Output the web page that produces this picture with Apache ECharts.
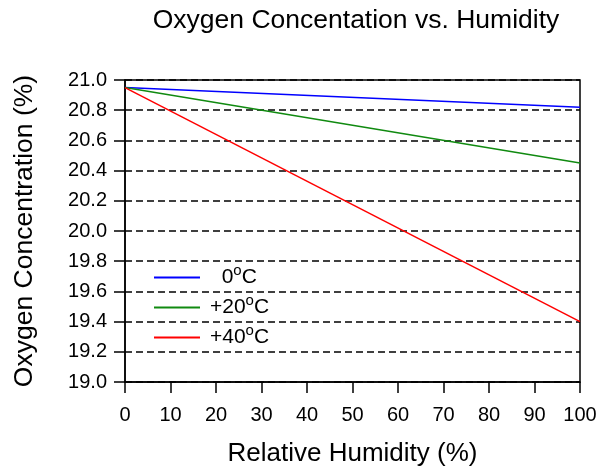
<!DOCTYPE html>
<html>
<head>
<meta charset="utf-8">
<script src="https://cdn.jsdelivr.net/npm/echarts@6/dist/echarts.min.js"></script>
<style>
html, body { margin: 0; padding: 0; background: #fff; }
#main { width: 598px; height: 468px; }
</style>
</head>
<body>
<div id="main"></div>
<script>
// data
var humidity = [0, 100];
var temp0 = [20.95, 20.82];
var temp20 = [20.95, 20.45];
var temp40 = [20.95, 19.40];
var names = ['0°C', '+20°C', '+40°C'];
var legendText = {
    '0°C': '  0{s|o}C',
    '+20°C': '+20{s|o}C',
    '+40°C': '+40{s|o}C'
};

function pairs(ys) {
    return humidity.map(function (x, i) { return [x, ys[i]]; });
}

var font = 'Liberation Sans, Arial, sans-serif';
var myChart = echarts.init(document.getElementById('main'));

var option = {
    animation: false,
    textStyle: { fontFamily: font, color: '#000' },
    title: {
        text: 'Oxygen Concentation vs. Humidity',
        left: 351,
        textAlign: 'center',
        top: 2,
        textStyle: { fontFamily: font, fontSize: 26.5, fontWeight: 'normal', color: '#000' }
    },
    grid: {
        left: 125, right: 18, top: 80, bottom: 86,
        outerBoundsMode: 'none',
        show: true, borderColor: '#000', borderWidth: 1.5
    },
    legend: {
        orient: 'vertical',
        left: 149,
        top: 258,
        itemWidth: 46,
        itemHeight: 2,
        itemGap: 1,
        icon: 'rect',
        data: names,
        formatter: function (n) { return legendText[n]; },
        textStyle: {
            fontFamily: font, fontSize: 21, lineHeight: 21, color: '#000',
            padding: [0, 0, 0, 5],
            rich: {
                // raised small "o" for the degree sign
                s: { fontSize: 15, lineHeight: 13, padding: [0, 0, 14, 0] }
            }
        }
    },
    xAxis: {
        type: 'value',
        min: 0, max: 100, interval: 10,
        name: 'Relative Humidity (%)',
        nameLocation: 'middle',
        nameGap: 59,
        nameTextStyle: { fontSize: 26, color: '#000' },
        axisLine: { lineStyle: { color: '#000', width: 1.5 } },
        axisTick: { length: 11, lineStyle: { color: '#000', width: 1.5 } },
        axisLabel: { fontSize: 20, color: '#000', margin: 23 },
        splitLine: { show: false }
    },
    yAxis: {
        type: 'value',
        min: 19.0, max: 21.0, interval: 0.2,
        name: 'Oxygen Concentration (%)',
        nameLocation: 'middle',
        nameGap: 87,
        nameTextStyle: { fontSize: 26.5, color: '#000' },
        axisLine: { show: true, lineStyle: { color: '#000', width: 1.5 } },
        axisTick: { show: true, length: 11, lineStyle: { color: '#000', width: 1.5 } },
        axisLabel: {
            fontSize: 20, color: '#000', margin: 18,
            formatter: function (v) { return v.toFixed(1); }
        },
        splitLine: { show: true, lineStyle: { color: '#000', width: 1.5, type: [7, 4] } }
    },
    series: [
        { name: names[0], type: 'line', data: pairs(temp0), showSymbol: false, lineStyle: { color: '#0000ff', width: 1.5 }, itemStyle: { color: '#0000ff' } },
        { name: names[1], type: 'line', data: pairs(temp20), showSymbol: false, lineStyle: { color: '#108a10', width: 1.5 }, itemStyle: { color: '#108a10' } },
        { name: names[2], type: 'line', data: pairs(temp40), showSymbol: false, lineStyle: { color: '#ff0000', width: 1.5 }, itemStyle: { color: '#ff0000' } }
    ]
};

myChart.setOption(option);
</script>
</body>
</html>
